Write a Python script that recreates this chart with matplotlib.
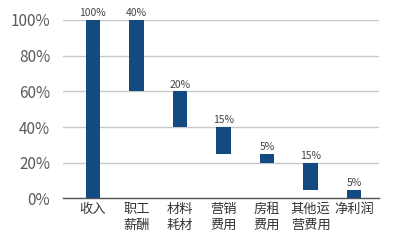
import matplotlib
matplotlib.use("Agg")
import matplotlib.pyplot as plt
import numpy as np

plt.rcParams['font.family'] = ['Noto Sans CJK SC', 'DejaVu Sans']

categories = ['收入', '职工\n薪酬', '材料\n耗材', '营销\n费用', '房租\n费用', '其他运\n营费用', '净利润']
bar_top = [100, 100, 60, 40, 25, 20, 5]
bar_bottom = [0, 60, 40, 25, 20, 5, 0]
value_labels = ['100%', '40%', '20%', '15%', '5%', '15%', '5%']
yticks = [0, 20, 40, 60, 80, 100]

color = '#134b80'

fig = plt.figure(figsize=(4.08, 2.4), dpi=100)
ax = fig.add_axes([0.154, 0.173, 0.775, 0.744])

x = np.arange(len(categories))
heights = np.array(bar_top) - np.array(bar_bottom)
ax.bar(x, heights, bottom=bar_bottom, width=0.33, color=color, zorder=3)

for xi, top, lab in zip(x, bar_top, value_labels):
    ax.text(xi, top + 1, lab, ha='center', va='bottom', fontsize=7.5,
            color='#444444', fontweight='light', clip_on=False)

ax.set_xlim(-0.69, 6.57)
ax.set_ylim(0, 100)
ax.set_yticks(yticks)
ax.set_yticklabels([f'{v}%' for v in yticks], fontsize=11, color='#5a5a5a',
                   fontweight='light')
ax.set_xticks(x)
ax.set_xticklabels(categories, fontsize=9.5, color='#333333', linespacing=1.3,
                   fontweight='light')
ax.tick_params(axis='both', length=0)
ax.tick_params(axis='y', pad=9)
ax.tick_params(axis='x', pad=3)

ax.grid(axis='y', color='#c8c8c8', linewidth=1, zorder=0)
for s in ['top', 'right', 'left']:
    ax.spines[s].set_visible(False)
ax.spines['bottom'].set_color('#555555')
ax.spines['bottom'].set_linewidth(1)

fig.savefig('out.png', dpi=100)
